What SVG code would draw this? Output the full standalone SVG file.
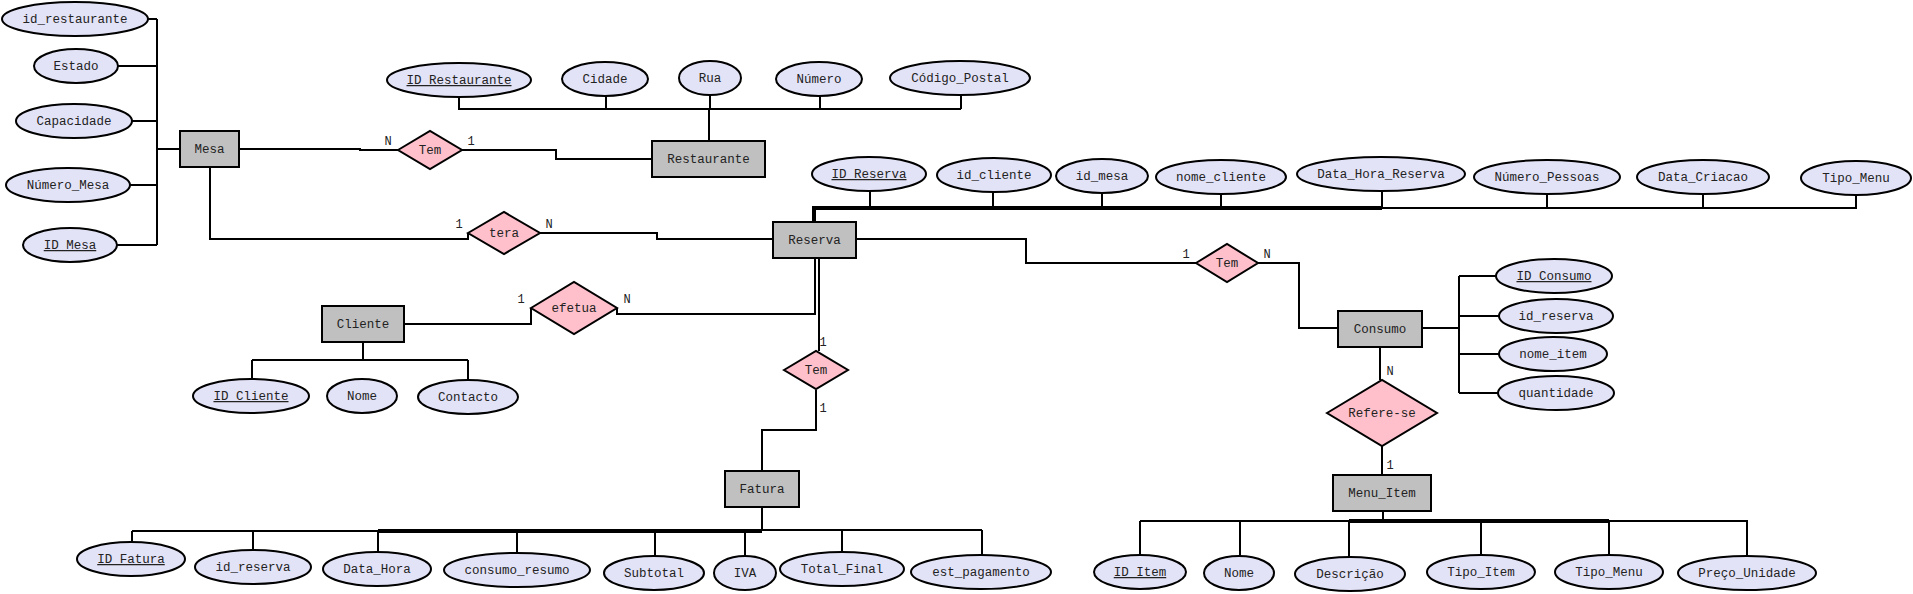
<svg xmlns="http://www.w3.org/2000/svg" width="1913" height="594" viewBox="0 0 1913 594">
<style>
.a{fill:#e3e3f7;stroke:#000;stroke-width:2}
.e{fill:#c0c0c0;stroke:#000;stroke-width:2}
.r{fill:#ffc0cb;stroke:#000;stroke-width:2}
text{font-family:"Liberation Mono","Courier New",monospace;font-size:12.5px;fill:#222;text-anchor:middle}
.k{text-decoration:underline}
.c{font-size:12px}
.l{fill:none;stroke:#000;stroke-width:2}
.t{fill:none;stroke:#000;stroke-width:4}
</style>
<rect width="1913" height="594" fill="#fff"/>
<g id="connectors">
<polyline class="l" points="148,19 157,19"/><polyline class="l" points="118,66 157,66"/><polyline class="l" points="132,121 157,121"/><polyline class="l" points="130,185 157,185"/><polyline class="l" points="117,245 157,245"/>
<polyline class="l" points="157,19 157,245"/><polyline class="l" points="157,149 180,149"/>
<polyline class="l" points="239,149 360,149 360,150 398,150"/>
<polyline class="l" points="462,150 556,150 556,159 652,159"/>
<polyline class="l" points="459,97 459,109 961,109"/><polyline class="l" points="606,96 606,109"/><polyline class="l" points="710,95 710,109"/><polyline class="l" points="820,96 820,109"/><polyline class="l" points="961,95 961,109"/><polyline class="l" points="709,109 709,141"/>
<polyline class="l" points="210,167 210,239 468,239 468,233"/>
<polyline class="l" points="540,233 657,233 657,239 773,239"/>
<polyline class="t" points="814,222 814,208 1382,208"/><polyline class="l" points="1382,208 1856,208"/>
<polyline class="l" points="870,191 870,208"/><polyline class="l" points="993,192 993,208"/><polyline class="l" points="1102,193 1102,208"/><polyline class="l" points="1221,194 1221,208"/><polyline class="l" points="1382,191 1382,208"/><polyline class="l" points="1547,194 1547,208"/><polyline class="l" points="1703,194 1703,208"/><polyline class="l" points="1856,195 1856,209"/>
<polyline class="l" points="856,239 1026,239 1026,263 1196,263"/>
<polyline class="l" points="1258,263 1299,263 1299,328 1338,328"/>
<polyline class="l" points="1422,328 1459,328"/><polyline class="l" points="1459,276 1459,393"/><polyline class="l" points="1459,276 1496,276"/><polyline class="l" points="1459,316 1499,316"/><polyline class="l" points="1459,354 1499,354"/><polyline class="l" points="1459,393 1499,393"/>
<polyline class="l" points="1380,347 1380,380"/><polyline class="l" points="1382,446 1382,475"/>
<polyline class="l" points="1383,511 1383,521"/><polyline class="l" points="1140,521 1747,521"/><polyline class="t" points="1349,521 1609,521"/>
<polyline class="l" points="1140,521 1140,555"/><polyline class="l" points="1240,521 1240,556"/><polyline class="l" points="1349,521 1349,557"/><polyline class="l" points="1481,521 1481,555"/><polyline class="l" points="1609,521 1609,555"/><polyline class="l" points="1747,520 1747,556"/>
<polyline class="l" points="404,324 531,324 531,308"/>
<polyline class="l" points="617,308 617,314 815,314 815,258"/>
<polyline class="l" points="819,258 819,351"/>
<polyline class="l" points="816,390 816,430 762,430 762,471"/>
<polyline class="l" points="363,342 363,360"/><polyline class="l" points="252,360 468,360"/><polyline class="l" points="252,360 252,379"/><polyline class="l" points="468,360 468,380"/>
<polyline class="l" points="762,507 762,531"/><polyline class="l" points="132,531 378,531"/><polyline class="t" points="378,531 762,531"/><polyline class="l" points="762,530 982,530"/>
<polyline class="l" points="132,531 132,542"/><polyline class="l" points="253,531 253,550"/><polyline class="l" points="378,531 378,552"/><polyline class="l" points="517,531 517,553"/><polyline class="l" points="655,531 655,556"/><polyline class="l" points="745,531 745,556"/><polyline class="l" points="842,530 842,552"/><polyline class="l" points="982,530 982,555"/>
<text class="c" x="388" y="145">N</text><text class="c" x="471" y="145">1</text>
<text class="c" x="459" y="228">1</text><text class="c" x="549" y="228">N</text>
<text class="c" x="521" y="303">1</text><text class="c" x="627" y="303">N</text>
<text class="c" x="1186" y="258">1</text><text class="c" x="1267" y="258">N</text>
<text class="c" x="823" y="346">1</text><text class="c" x="823" y="412">1</text>
<text class="c" x="1390" y="375">N</text><text class="c" x="1390" y="469">1</text>
</g>
<g id="Mesa"><rect class="e" x="180" y="131" width="59" height="36"/><text x="209.5" y="153">Mesa</text></g>
<g id="Restaurante"><rect class="e" x="652" y="141" width="113" height="36"/><text x="708.5" y="163">Restaurante</text></g>
<g id="Reserva"><rect class="e" x="773" y="222" width="83" height="36"/><text x="814.5" y="244">Reserva</text></g>
<g id="Cliente"><rect class="e" x="322" y="306" width="82" height="36"/><text x="363" y="328">Cliente</text></g>
<g id="Consumo"><rect class="e" x="1338" y="311" width="84" height="36"/><text x="1380" y="333">Consumo</text></g>
<g id="Fatura"><rect class="e" x="725" y="471" width="74" height="36"/><text x="762" y="493">Fatura</text></g>
<g id="Menu_Item"><rect class="e" x="1333" y="475" width="98" height="36"/><text x="1382" y="497">Menu_Item</text></g>
<g id="rel_Tem_Mesa"><polygon class="r" points="398,150 430,131 462,150 430,169"/><text x="430" y="154">Tem</text></g>
<g id="rel_tera"><polygon class="r" points="468,233 504,212 540,233 504,254"/><text x="504" y="237">tera</text></g>
<g id="rel_efetua"><polygon class="r" points="531,308 574,282 617,308 574,334"/><text x="574" y="312">efetua</text></g>
<g id="rel_Tem_Consumo"><polygon class="r" points="1196,263 1227,244 1258,263 1227,282"/><text x="1227" y="267">Tem</text></g>
<g id="rel_Tem_Fatura"><polygon class="r" points="784,370 816,351 848,370 816,389"/><text x="816" y="374">Tem</text></g>
<g id="rel_Refere"><polygon class="r" points="1327,413 1382,380 1437,413 1382,446"/><text x="1382" y="417">Refere-se</text></g>
<g id="attr_Mesa">
<ellipse class="a" cx="75" cy="19" rx="73" ry="17"/><text x="75" y="23">id_restaurante</text>
<ellipse class="a" cx="76" cy="66" rx="42" ry="17"/><text x="76" y="70">Estado</text>
<ellipse class="a" cx="74" cy="121" rx="58" ry="17"/><text x="74" y="125">Capacidade</text>
<ellipse class="a" cx="68" cy="185" rx="62" ry="17"/><text x="68" y="189">Número_Mesa</text>
<ellipse class="a" cx="70" cy="245" rx="47" ry="17"/><text class="k" x="70" y="249">ID Mesa</text>
</g>
<g id="attr_Restaurante">
<ellipse class="a" cx="459" cy="80" rx="72" ry="17"/><text class="k" x="459" y="84">ID Restaurante</text>
<ellipse class="a" cx="605" cy="79" rx="43" ry="17"/><text x="605" y="83">Cidade</text>
<ellipse class="a" cx="710" cy="78" rx="31" ry="17"/><text x="710" y="82">Rua</text>
<ellipse class="a" cx="819" cy="79" rx="43" ry="17"/><text x="819" y="83">Número</text>
<ellipse class="a" cx="960" cy="78" rx="70" ry="17"/><text x="960" y="82">Código_Postal</text>
</g>
<g id="attr_Reserva">
<ellipse class="a" cx="869" cy="174" rx="57" ry="17"/><text class="k" x="869" y="178">ID Reserva</text>
<ellipse class="a" cx="994" cy="175" rx="57" ry="17"/><text x="994" y="179">id_cliente</text>
<ellipse class="a" cx="1102" cy="176" rx="46" ry="17"/><text x="1102" y="180">id_mesa</text>
<ellipse class="a" cx="1221" cy="177" rx="65" ry="17"/><text x="1221" y="181">nome_cliente</text>
<ellipse class="a" cx="1381" cy="174" rx="84" ry="17"/><text x="1381" y="178">Data_Hora_Reserva</text>
<ellipse class="a" cx="1547" cy="177" rx="73" ry="17"/><text x="1547" y="181">Número_Pessoas</text>
<ellipse class="a" cx="1703" cy="177" rx="66" ry="17"/><text x="1703" y="181">Data_Criacao</text>
<ellipse class="a" cx="1856" cy="178" rx="55" ry="17"/><text x="1856" y="182">Tipo_Menu</text>
</g>
<g id="attr_Consumo">
<ellipse class="a" cx="1554" cy="276" rx="58" ry="17"/><text class="k" x="1554" y="280">ID Consumo</text>
<ellipse class="a" cx="1556" cy="316" rx="57" ry="17"/><text x="1556" y="320">id_reserva</text>
<ellipse class="a" cx="1553" cy="354" rx="54" ry="17"/><text x="1553" y="358">nome_item</text>
<ellipse class="a" cx="1556" cy="393" rx="58" ry="17"/><text x="1556" y="397">quantidade</text>
</g>
<g id="attr_Cliente">
<ellipse class="a" cx="251" cy="396" rx="58" ry="17"/><text class="k" x="251" y="400">ID Cliente</text>
<ellipse class="a" cx="362" cy="396" rx="35" ry="17"/><text x="362" y="400">Nome</text>
<ellipse class="a" cx="468" cy="397" rx="50" ry="17"/><text x="468" y="401">Contacto</text>
</g>
<g id="attr_Fatura">
<ellipse class="a" cx="131" cy="559" rx="54" ry="17"/><text class="k" x="131" y="563">ID Fatura</text>
<ellipse class="a" cx="253" cy="567" rx="58" ry="17"/><text x="253" y="571">id_reserva</text>
<ellipse class="a" cx="377" cy="569" rx="54" ry="17"/><text x="377" y="573">Data_Hora</text>
<ellipse class="a" cx="517" cy="570" rx="73" ry="17"/><text x="517" y="574">consumo_resumo</text>
<ellipse class="a" cx="654" cy="573" rx="50" ry="17"/><text x="654" y="577">Subtotal</text>
<ellipse class="a" cx="745" cy="573" rx="31" ry="17"/><text x="745" y="577">IVA</text>
<ellipse class="a" cx="842" cy="569" rx="62" ry="17"/><text x="842" y="573">Total_Final</text>
<ellipse class="a" cx="981" cy="572" rx="70" ry="17"/><text x="981" y="576">est_pagamento</text>
</g>
<g id="attr_Menu_Item">
<ellipse class="a" cx="1140" cy="572" rx="46" ry="17"/><text class="k" x="1140" y="576">ID Item</text>
<ellipse class="a" cx="1239" cy="573" rx="35" ry="17"/><text x="1239" y="577">Nome</text>
<ellipse class="a" cx="1350" cy="574" rx="55" ry="17"/><text x="1350" y="578">Descrição</text>
<ellipse class="a" cx="1481" cy="572" rx="54" ry="17"/><text x="1481" y="576">Tipo_Item</text>
<ellipse class="a" cx="1609" cy="572" rx="54" ry="17"/><text x="1609" y="576">Tipo_Menu</text>
<ellipse class="a" cx="1747" cy="573" rx="69" ry="17"/><text x="1747" y="577">Preço_Unidade</text>
</g>
</svg>
